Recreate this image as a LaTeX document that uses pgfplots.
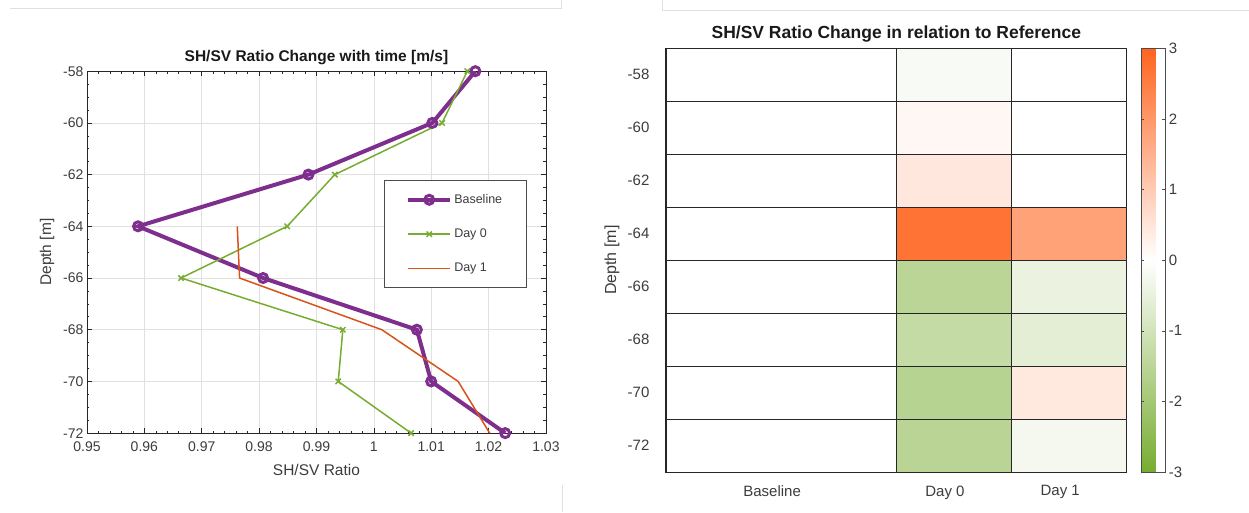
\documentclass[border=0pt]{standalone}
\usepackage{pgfplots}
\pgfplotsset{compat=1.18}
\usepgfplotslibrary{patchplots}
\usepackage{fontspec}
\setmainfont{Liberation Sans}
\definecolor{mpurple}{RGB}{126,47,142}
\definecolor{mgreen}{RGB}{119,172,48}
\definecolor{morange}{RGB}{217,83,25}
\definecolor{axgray}{RGB}{38,38,38}
\definecolor{txgray}{RGB}{60,60,60}
\begin{document}
\begin{tikzpicture}
\path (0pt,0pt) rectangle (1249pt,512pt);
\draw[black!12] (10pt,504pt) -- (561pt,504pt) -- (561pt,512pt);
\draw[black!12] (662pt,512pt) -- (662pt,502pt) -- (1249pt,502pt);
\draw[black!12] (562pt,0pt) -- (562pt,27pt);
% ---------------- left panel ----------------
\begin{axis}[
  at={(87pt,79pt)}, anchor=south west, scale only axis,
  width=459pt, height=362pt,
  xmin=0.95, xmax=1.03, ymin=-72, ymax=-58,
  xtick={0.95,0.96,0.97,0.98,0.99,1,1.01,1.02,1.03},
  ytick={-72,-70,-68,-66,-64,-62,-60,-58},
  minor x tick num=4, minor y tick num=3,
  xtick pos=both, ytick pos=both,
  xticklabel pos=bottom, yticklabel pos=left,
  tick align=inside,
  major tick length=5pt, minor tick length=2.5pt,
  /pgf/number format/assume math mode=true,
  xticklabel style={/pgf/number format/fixed,/pgf/number format/precision=2, yshift=-5pt},
  tick label style={font=\fontsize{14}{16}\selectfont, text=txgray},
  grid=major, major grid style={black!12, line width=0.6pt},
  axis line style={axgray, line width=0.7pt},
  tick style={axgray, line width=0.6pt},
  title={SH/SV Ratio Change with time [m/s]},
  title style={font=\bfseries\fontsize{15.5}{17}\selectfont, text=black!90,
    at={(axis description cs:0.5,1)}, anchor=base, yshift=4pt},
  xlabel={SH/SV Ratio},
  ylabel={Depth [m]},
  label style={font=\fontsize{15.5}{17}\selectfont, text=txgray},
  xlabel style={at={(axis description cs:0.5,0)}, anchor=base, yshift=-42pt},
  ylabel style={at={(axis description cs:-0.087,0.5)}, anchor=center},
  legend cell align=left,
  legend image code/.code={\draw[mark repeat=2,mark phase=2,#1] plot coordinates {(0pt,0pt)(21pt,0pt)(42pt,0pt)};},
  legend style={at={(axis description cs:0.647,0.699)}, anchor=north west,
    draw=black!70, line width=0.7pt, fill=white,
    font=\fontsize{12.5}{14}\selectfont, text=txgray,
    inner xsep=22pt, inner ysep=12pt, row sep=20pt},
]
\addplot[mpurple, line width=4pt, mark=o, mark size=4.5pt, mark options={line width=3pt}]
coordinates {(1.0177,-58) (1.0102,-60) (0.9886,-62) (0.9589,-64) (0.9807,-66) (1.0075,-68) (1.0100,-70) (1.0229,-72)};
\addlegendentry{Baseline}
\addplot[mgreen, line width=1.5pt, mark=x, mark size=3.8pt, mark options={line width=1.5pt}]
coordinates {(1.0163,-58) (1.0119,-60) (0.9932,-62) (0.9849,-64) (0.9664,-66) (0.9946,-68) (0.9938,-70) (1.0065,-72)};
\addlegendentry{Day 0}
\addplot[morange, line width=1.5pt]
coordinates {(0.9762,-64) (0.9766,-66) (1.0014,-68) (1.0147,-70) (1.0202,-72)};
\addlegendentry{Day 1}
\end{axis}
% ---------------- right panel ----------------
\begin{axis}[
  at={(666pt,40pt)}, anchor=south west, scale only axis,
  width=461pt, height=424pt,
  xmin=0, xmax=4, ymin=-73, ymax=-57,
  xtick={1,2.5,3.5}, xticklabels={Baseline,Day 0,Day 1},
  ytick={-72,-70,-68,-66,-64,-62,-60,-58},
  major tick length=0pt,
  /pgf/number format/assume math mode=true,
  tick label style={font=\fontsize{15}{17}\selectfont, text=txgray},
  yticklabel style={xshift=-13pt},
  xticklabel style={yshift=-10pt, xshift=-9pt},
  axis line style={black!85, line width=1.2pt},
  title={SH/SV Ratio Change in relation to Reference},
  title style={font=\bfseries\fontsize{17.5}{19}\selectfont, text=black!90,
    at={(axis description cs:0.5,1)}, anchor=base, yshift=4pt},
  ylabel={Depth [m]},
  ylabel style={font=\fontsize{16}{18}\selectfont, text=txgray,
    at={(axis description cs:-0.117,0.5)}, anchor=center},
  colormap={gor}{rgb255=(119,172,48) rgb255=(255,255,255) rgb255=(255,100,30)},
  point meta min=-3, point meta max=3,
  colorbar,
  colorbar style={
    at={(parent axis.north east)}, anchor=north west, xshift=6pt,
    scale only axis, width=24pt, height=424pt,
    ytick={-3,-2,-1,0,1,2,3},
    /pgf/number format/assume math mode=true,
    yticklabel style={font=\fontsize{15}{17}\selectfont, text=txgray},
    axis line style={black!70, line width=0.8pt},
    major tick length=3pt, tick align=inside,
    tick style={black!70},
  },
]
\addplot[patch, patch type=rectangle, shader=faceted, faceted color=black!85,
  line width=1.2pt, point meta=explicit] table[x=x, y=y, meta=c] {
x y c
0 -59 0
2 -59 0
2 -57 0
0 -57 0
0 -61 0
2 -61 0
2 -59 0
0 -59 0
0 -63 0
2 -63 0
2 -61 0
0 -61 0
0 -65 0
2 -65 0
2 -63 0
0 -63 0
0 -67 0
2 -67 0
2 -65 0
0 -65 0
0 -69 0
2 -69 0
2 -67 0
0 -67 0
0 -71 0
2 -71 0
2 -69 0
0 -69 0
0 -73 0
2 -73 0
2 -71 0
0 -71 0
2 -59 -0.15
3 -59 -0.15
3 -57 -0.15
2 -57 -0.15
2 -61 0.15
3 -61 0.15
3 -59 0.15
2 -59 0.15
2 -63 0.46
3 -63 0.46
3 -61 0.46
2 -61 0.46
2 -65 2.7
3 -65 2.7
3 -63 2.7
2 -63 2.7
2 -67 -1.5
3 -67 -1.5
3 -65 -1.5
2 -65 -1.5
2 -69 -1.3
3 -69 -1.3
3 -67 -1.3
2 -67 -1.3
2 -71 -1.6
3 -71 -1.6
3 -69 -1.6
2 -69 -1.6
2 -73 -1.55
3 -73 -1.55
3 -71 -1.55
2 -71 -1.55
3 -59 0
4 -59 0
4 -57 0
3 -57 0
3 -61 0
4 -61 0
4 -59 0
3 -59 0
3 -63 0
4 -63 0
4 -61 0
3 -61 0
3 -65 1.8
4 -65 1.8
4 -63 1.8
3 -63 1.8
3 -67 -0.45
4 -67 -0.45
4 -65 -0.45
3 -65 -0.45
3 -69 -0.6
4 -69 -0.6
4 -67 -0.6
3 -67 -0.6
3 -71 0.45
4 -71 0.45
4 -69 0.45
3 -69 0.45
3 -73 -0.25
4 -73 -0.25
4 -71 -0.25
3 -71 -0.25
};
\end{axis}
\end{tikzpicture}
\end{document}
